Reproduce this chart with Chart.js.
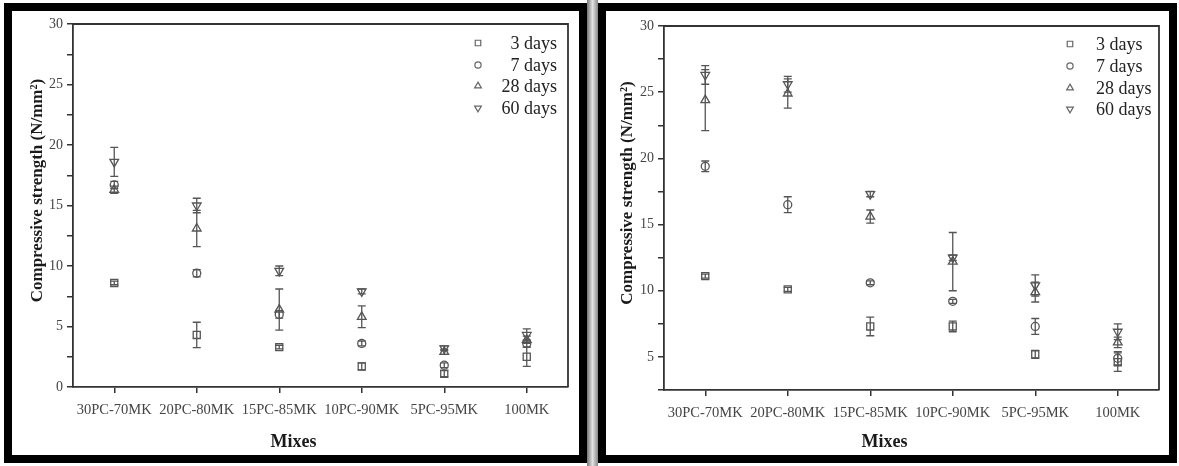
<!DOCTYPE html>
<html>
<head>
<meta charset="utf-8">
<script src="https://cdn.jsdelivr.net/npm/chart.js@4.4.1/dist/chart.umd.min.js"></script>
<style>
  html, body { margin: 0; padding: 0; background: #fff; width: 1179px; height: 466px; overflow: hidden; }
  .panel { position: absolute; top: 3px; height: 460px; border: 8px solid #000; box-sizing: border-box; background: #fff; }
  #p1 { left: 4px; width: 583px; }
  #p2 { left: 598px; width: 579px; }
  #gap { position: absolute; left: 587px; top: 0; width: 11px; height: 466px; background: linear-gradient(to right, #777, #e2e2e2 50%, #888); }
  canvas { display: block; }
</style>
</head>
<body>
<div class="panel" id="p1"><canvas id="left-chart" width="567" height="444"></canvas></div>
<div id="gap"></div>
<div class="panel" id="p2"><canvas id="right-chart" width="563" height="444"></canvas></div>

<script>
// categories
const mixes = ['30PC-70MK', '20PC-80MK', '15PC-85MK', '10PC-90MK', '5PC-95MK', '100MK'];
const ageLabels = ['3 days', '7 days', '28 days', '60 days'];

// left panel (N/mm2) and error half-widths
const left3  = [8.6, 4.3, 3.3, 1.7, 1.1, 2.5];
const left7  = [16.7, 9.4, 6.0, 3.6, 1.8, 3.6];
const left28 = [16.3, 13.1, 6.4, 5.8, 2.9, 3.9];
const left60 = [18.6, 15.0, 9.6, 7.9, 3.2, 4.3];
const left3Err  = [0.15, 1.05, 0.15, 0.3, 0.25, 0.8];
const left7Err  = [0.3, 0.3, 0.3, 0.2, 0.2, 0.3];
const left28Err = [0.3, 1.5, 1.7, 0.9, 0.2, 0.3];
const left60Err = [1.2, 0.6, 0.4, 0.2, 0.2, 0.5];

// right panel
const right3  = [11.1, 10.1, 7.3, 7.3, 5.2, 4.6];
const right7  = [19.4, 16.5, 10.6, 9.2, 7.3, 4.9];
const right28 = [24.4, 24.9, 15.6, 12.2, 9.9, 6.1];
const right60 = [26.3, 25.6, 17.3, 12.5, 10.4, 6.9];
const right3Err  = [0.15, 0.15, 0.7, 0.4, 0.3, 0.7];
const right7Err  = [0.4, 0.6, 0.15, 0.15, 0.6, 0.5];
const right28Err = [2.3, 1.1, 0.5, 2.2, 0.75, 0.4];
const right60Err = [0.7, 0.6, 0.2, 0.2, 0.8, 0.6];

// y axis ranges
const leftRange = [0, 30];
const rightRange = [2.5, 30];

const xTitle = 'Mixes';
const yTitle = 'Compressive strength (N/mm²)';

const SERIF = "'Liberation Serif', 'Times New Roman', serif";
const AXIS = '#333';
const MARK = '#555';

const markerStyles = [
  { pointStyle: 'rect', rotation: 0, radius: 5 },
  { pointStyle: 'circle', rotation: 0, radius: 4 },
  { pointStyle: 'triangle', rotation: 0, radius: 5 },
  { pointStyle: 'triangle', rotation: 180, radius: 5 }
];

function drawMarker(ctx, m, x, y, r) {
  ctx.beginPath();
  if (m.pointStyle === 'rect') {
    const s = Math.SQRT1_2 * r;
    ctx.rect(x - s, y - s, 2 * s, 2 * s);
  } else if (m.pointStyle === 'circle') {
    ctx.arc(x, y, r, 0, Math.PI * 2);
  } else {
    const rot = m.rotation * Math.PI / 180;
    for (let k = 0; k < 3; k++) {
      const a = rot - Math.PI / 2 + k * 2 * Math.PI / 3;
      const px = x + Math.cos(a) * r, py = y + Math.sin(a) * r;
      k === 0 ? ctx.moveTo(px, py) : ctx.lineTo(px, py);
    }
    ctx.closePath();
  }
  ctx.stroke();
}

// error bars read from dataset.errors, placed with the chart's own scales
const errorBars = {
  id: 'errorBars',
  afterDatasetsDraw(chart) {
    const { ctx } = chart;
    const yScale = chart.scales.y;
    ctx.save();
    ctx.strokeStyle = MARK;
    ctx.lineWidth = 1.3;
    chart.data.datasets.forEach((ds, i) => {
      const meta = chart.getDatasetMeta(i);
      meta.data.forEach((pt, j) => {
        const e = ds.errors[j];
        if (!e) return;
        const top = yScale.getPixelForValue(ds.data[j] + e);
        const bot = yScale.getPixelForValue(ds.data[j] - e);
        ctx.beginPath();
        ctx.moveTo(pt.x, top); ctx.lineTo(pt.x, bot);
        ctx.moveTo(pt.x - 4, top); ctx.lineTo(pt.x + 4, top);
        ctx.moveTo(pt.x - 4, bot); ctx.lineTo(pt.x + 4, bot);
        ctx.stroke();
      });
    });
    ctx.restore();
  }
};

// top/right frame of the plot box plus the two axis titles
const frame = {
  id: 'frame',
  afterDraw(chart, args, opts) {
    const { ctx, chartArea: a } = chart;
    ctx.save();
    ctx.strokeStyle = AXIS;
    ctx.lineWidth = 1.8;
    ctx.beginPath();
    ctx.moveTo(a.left, a.top); ctx.lineTo(a.right, a.top); ctx.lineTo(a.right, a.bottom);
    ctx.stroke();

    ctx.fillStyle = '#1a1a1a';
    ctx.textAlign = 'center';
    ctx.textBaseline = 'middle';
    ctx.font = 'bold 18px ' + SERIF;
    ctx.fillText(xTitle, (a.left + a.right) / 2 + opts.xTitleDx, opts.xTitleY);

    ctx.font = 'bold 17px ' + SERIF;
    ctx.translate(opts.yTitleX, (a.top + a.bottom) / 2 + opts.yTitleDy);
    ctx.rotate(-Math.PI / 2);
    ctx.fillText(yTitle, 0, 0);
    ctx.restore();
  }
};

// legend inside the top-right corner
const cornerLegend = {
  id: 'cornerLegend',
  afterDraw(chart, args, opts) {
    const { ctx, chartArea: a } = chart;
    ctx.save();
    ctx.font = '18px ' + SERIF;
    ctx.textBaseline = 'middle';
    ctx.textAlign = opts.align;
    chart.data.datasets.forEach((ds, i) => {
      const y = a.top + opts.rows[i];
      ctx.strokeStyle = '#666';
      ctx.lineWidth = 1.2;
      drawMarker(ctx, markerStyles[i], a.right + opts.markerDx, y, markerStyles[i].radius * 0.78);
      ctx.fillStyle = '#222';
      ctx.fillText(ds.label, a.right + opts.textDx, y + 1);
    });
    ctx.restore();
  }
};

function makeChart(id, series, errors, range, box, legendOpts) {
  const datasets = series.map((vals, i) => ({
    label: ageLabels[i],
    data: vals,
    errors: errors[i],
    showLine: false,
    pointStyle: markerStyles[i].pointStyle,
    rotation: markerStyles[i].rotation,
    pointRadius: markerStyles[i].radius,
    pointHoverRadius: markerStyles[i].radius,
    pointBorderWidth: 1.3,
    borderColor: MARK,
    backgroundColor: 'rgba(0,0,0,0)'
  }));

  return new Chart(document.getElementById(id), {
    type: 'line',
    data: { labels: mixes, datasets },
    plugins: [errorBars, frame, cornerLegend],
    options: {
      responsive: false,
      animation: false,
      layout: { padding: { top: box.top, right: box.right, left: 0, bottom: 0 } },
      plugins: {
        legend: { display: false },
        tooltip: { enabled: false },
        cornerLegend: legendOpts,
        frame: { xTitleDx: -27, xTitleY: 431, yTitleX: box.yTitleX, yTitleDy: -15 }
      },
      scales: {
        x: {
          type: 'category',
          offset: true,
          grid: { drawOnChartArea: false, drawTicks: true, tickLength: 6, color: AXIS, lineWidth: 1.5 },
          border: { display: true, color: AXIS, width: 1.8 },
          ticks: { color: '#444', font: { family: SERIF, size: 14.5 }, padding: 8, maxRotation: 0, autoSkip: false },
          afterFit(s) { s.height = box.bottom; }
        },
        y: {
          min: range[0],
          max: range[1],
          grid: { drawOnChartArea: false, drawTicks: true, tickLength: 6, color: AXIS, lineWidth: 1.5 },
          border: { display: true, color: AXIS, width: 1.8 },
          ticks: {
            stepSize: 2.5,
            color: '#444',
            font: { family: SERIF, size: 14 },
            padding: 4,
            callback: v => (Math.abs(v % 5) < 1e-6 ? v : '')
          },
          afterFit(s) { s.width = box.left; }
        }
      }
    }
  });
}

makeChart('left-chart',
  [left3, left7, left28, left60],
  [left3Err, left7Err, left28Err, left60Err],
  leftRange,
  { left: 61, top: 13, right: 11, bottom: 68, yTitleX: 26 },
  { align: 'right', markerDx: -90, textDx: -11, rows: [19, 41, 62, 84] });

makeChart('right-chart',
  [right3, right7, right28, right60],
  [right3Err, right7Err, right28Err, right60Err],
  rightRange,
  { left: 58, top: 15, right: 10, bottom: 65, yTitleX: 22 },
  { align: 'left', markerDx: -89, textDx: -63, rows: [18, 40, 62, 83] });
</script>
</body>
</html>
